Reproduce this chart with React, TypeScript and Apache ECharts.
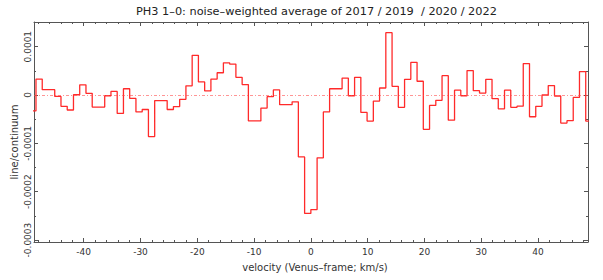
import React, { useEffect, useRef } from "react";
import * as echarts from "echarts";

// Spectral channels (Venus-frame velocity, km/s)
const channelWidth = 1.1;
const firstChannelCentre = -48.95;

// line/continuum per channel
const lineToContinuum = [
  -0.33e-4, 0.33e-4, 0.11e-4, 0.11e-4, -0.03e-4, -0.235e-4, -0.31e-4, 0.005e-4, 0.21e-4, 0.035e-4,
  -0.25e-4, -0.25e-4, -0.015e-4, 0.075e-4, -0.38e-4, 0.13e-4, -0.07e-4, -0.35e-4, -0.3e-4, -0.86e-4,
  -0.115e-4, -0.115e-4, -0.3e-4, -0.24e-4, -0.09e-4, 0.19e-4, 0.82e-4, 0.27e-4, 0.085e-4, 0.33e-4,
  0.46e-4, 0.665e-4, 0.64e-4, 0.365e-4, 0.215e-4, -0.535e-4, -0.535e-4, -0.27e-4, -0.035e-4, 0.105e-4,
  -0.2e-4, -0.2e-4, -0.14e-4, -1.28e-4, -2.45e-4, -2.37e-4, -1.3e-4, -0.35e-4, 0.13e-4, 0.13e-4,
  0.35e-4, -0.015e-4, 0.365e-4, -0.36e-4, -0.54e-4, -0.125e-4, 0.145e-4, 1.29e-4, 0.18e-4, -0.255e-4,
  0.325e-4, 0.675e-4, 0.285e-4, -0.71e-4, -0.215e-4, -0.11e-4, 0.4e-4, -0.52e-4, 0.1e-4, -0.015e-4,
  0.505e-4, 0.09e-4, 0.04e-4, 0.325e-4, -0.075e-4, -0.285e-4, 0.1e-4, -0.255e-4, -0.23e-4, 0.65e-4,
  -0.45e-4, -0.235e-4, 0.0, 0.195e-4, -0.02e-4, -0.58e-4, -0.53e-4, -0.05e-4, 0.485e-4, -0.54e-4,
];

const xMajorTicks = [-40, -30, -20, -10, 0, 10, 20, 30, 40];
const xMinorTicks = [
  -48, -46, -44, -42, -38, -36, -34, -32, -28, -26, -24, -22, -18, -16, -14, -12, -8, -6, -4, -2,
  2, 4, 6, 8, 12, 14, 16, 18, 22, 24, 26, 28, 32, 34, 36, 38, 42, 44, 46, 48,
];
const yMajorTicks = [-0.0003, -0.0002, -0.0001, 0, 0.0001];
const yMinorTicks = [-0.00025, -0.00015, -0.00005, 0.00005];

const titleText = "PH3 1\u20130: noise\u2013weighted average of 2017 / 2019  / 2020 / 2022";
const xName = "velocity (Venus\u2013frame; km/s)";
const yName = "line/continuum";

const X_MIN = -48.75;
const X_MAX = 48.8;
const Y_MIN = -0.000304;
const Y_MAX = 0.000151;

const FONT = "DejaVu Sans";
const AXIS_COLOR = "#555";
const TEXT_COLOR = "#333";

function fmtY(v: number): string {
  if (Math.abs(v) < 1e-12) return "0";
  return v.toFixed(4);
}

export default function App() {
  const ref = useRef<HTMLDivElement>(null);

  useEffect(() => {
    if (!ref.current) return;
    const chart = echarts.init(ref.current, null, { renderer: "svg" });

    const data = lineToContinuum.map((v, i) => [firstChannelCentre + i * channelWidth, v]);

    const xAxisBase = (position: "bottom" | "top", ticks: number[], len: number, showLine: boolean, showLabels: boolean) => ({
      type: "value" as const,
      position,
      min: X_MIN,
      max: X_MAX,
      axisLine: { show: showLine, onZero: false, lineStyle: { color: AXIS_COLOR, width: 1 } },
      axisTick: { show: true, inside: true, length: len, customValues: ticks, lineStyle: { color: AXIS_COLOR, width: 1 } },
      axisLabel: showLabels
        ? { show: true, customValues: xMajorTicks, fontSize: 9, color: TEXT_COLOR, fontFamily: FONT, margin: 5 }
        : { show: false },
      splitLine: { show: false },
    });

    const yAxisBase = (position: "left" | "right", ticks: number[], len: number, showLine: boolean, showLabels: boolean) => ({
      type: "value" as const,
      position,
      min: Y_MIN,
      max: Y_MAX,
      axisLine: { show: showLine, onZero: false, lineStyle: { color: AXIS_COLOR, width: 1 } },
      axisTick: { show: true, inside: true, length: len, customValues: ticks, lineStyle: { color: AXIS_COLOR, width: 1 } },
      axisLabel: showLabels
        ? {
            show: true,
            customValues: yMajorTicks,
            rotate: 90,
            fontSize: 9,
            color: TEXT_COLOR,
            fontFamily: FONT,
            margin: 2,
            formatter: (v: number) => fmtY(v),
          }
        : { show: false },
      splitLine: { show: false },
    });

    chart.setOption({
      animation: false,
      textStyle: { fontFamily: FONT },
      title: {
        text: titleText,
        left: 131,
        top: 1,
        textStyle: { fontSize: 11.3, fontWeight: "normal", color: "#222", fontFamily: FONT },
      },
      grid: { left: 34, right: 15, top: 22, bottom: 38, containLabel: false },
      xAxis: [
        xAxisBase("bottom", xMajorTicks, 4, true, true),
        xAxisBase("bottom", xMinorTicks, 2, false, false),
        xAxisBase("top", xMajorTicks, 4, true, false),
        xAxisBase("top", xMinorTicks, 2, false, false),
      ],
      yAxis: [
        yAxisBase("left", yMajorTicks, 4, true, true),
        yAxisBase("left", yMinorTicks, 2, false, false),
        yAxisBase("right", yMajorTicks, 4, true, false),
        yAxisBase("right", yMinorTicks, 2, false, false),
      ],
      graphic: [
        {
          type: "text",
          x: 315,
          y: 267,
          style: {
            text: xName,
            fontSize: 10,
            fontFamily: FONT,
            fill: TEXT_COLOR,
            textAlign: "center",
            textVerticalAlign: "middle",
          },
        },
        {
          type: "text",
          x: 14,
          y: 142,
          rotation: Math.PI / 2,
          style: {
            text: yName,
            fontSize: 10,
            fontFamily: FONT,
            fill: TEXT_COLOR,
            textAlign: "center",
            textVerticalAlign: "middle",
          },
        },
      ],
      series: [
        {
          type: "line",
          xAxisIndex: 0,
          yAxisIndex: 0,
          step: "middle",
          showSymbol: false,
          symbol: "none",
          clip: true,
          data,
          lineStyle: { color: "#ff2a2a", width: 1.3 },
          markLine: {
            silent: true,
            symbol: "none",
            label: { show: false },
            lineStyle: { color: "#ff4d4d", width: 0.6, type: [3, 2, 1, 2] },
            data: [{ yAxis: 0 }],
          },
        },
      ],
    });

    return () => chart.dispose();
  }, []);

  return (
    <div
      ref={ref}
      style={{ position: "fixed", left: 0, top: 0, width: 603, height: 280, background: "#fff" }}
    />
  );
}
